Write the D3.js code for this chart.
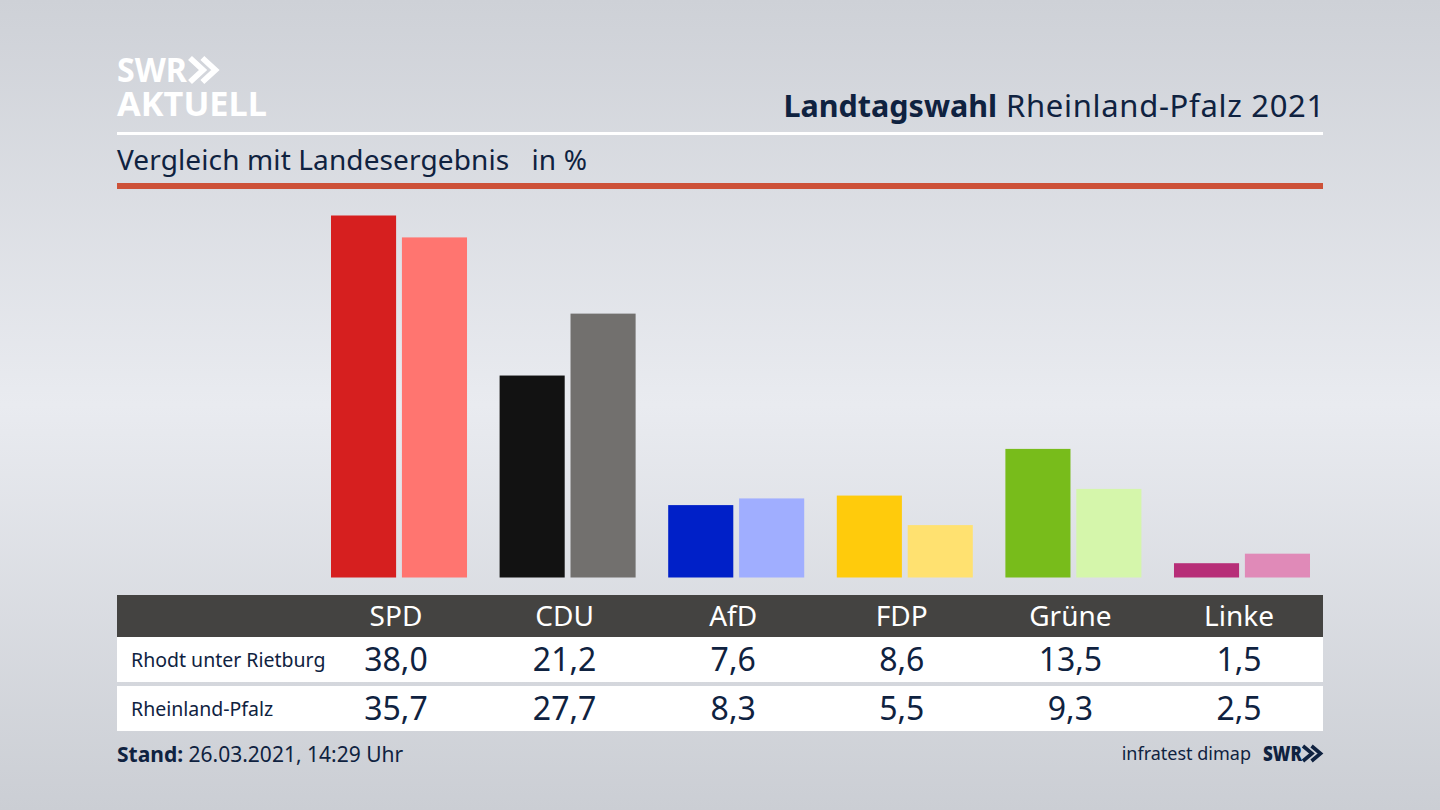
<!DOCTYPE html>
<html>
<head>
<meta charset="utf-8">
<script src="https://cdn.jsdelivr.net/npm/d3@7"></script>
<style>
    html, body { margin: 0; padding: 0; background: #d5d8de; }
    svg { display: block; }
    text { font-family: "Noto Sans", sans-serif; fill: #0f2240; }
</style>
</head>
<body>
<svg id="chart" width="1440" height="810"></svg>
<script>
    // Values
    const parties = ["SPD", "CDU", "AfD", "FDP", "Grüne", "Linke"];
    const rowLabels = ["Rhodt unter Rietburg", "Rheinland-Pfalz"];
    const localValues = [38.0, 21.2, 7.6, 8.6, 13.5, 1.5];
    const stateValues = [35.7, 27.7, 8.3, 5.5, 9.3, 2.5];
    const localColors = ["#d61f1f", "#121212", "#0020c8", "#ffcb0c", "#78bc1b", "#b72e78"];
    const stateColors = ["#ff7570", "#72706e", "#a0aeff", "#ffe170", "#d5f6ab", "#e08ab8"];

    const svg = d3.select("#chart");
    const defs = svg.append("defs");
    const left = 117, right = 1323;
    const navy = "#0f2240";

    // Background
    const bgLinear = defs.append("linearGradient").attr("id", "bgLinear")
        .attr("x1", 0).attr("y1", 0).attr("x2", 0).attr("y2", 1);
    bgLinear.append("stop").attr("offset", "0%").attr("stop-color", "#ced1d7");
    bgLinear.append("stop").attr("offset", "50%").attr("stop-color", "#e9ebf0");
    bgLinear.append("stop").attr("offset", "100%").attr("stop-color", "#cbced4");
    svg.append("rect").attr("width", 1440).attr("height", 810).attr("fill", "url(#bgLinear)");

    // Scales
    const barBottom = 577.5;
    const x = d3.scaleBand().domain(parties).range([314.7, 1326.3])
        .paddingInner(0.1933).paddingOuter(0.0967);
    const xSeries = d3.scaleBand().domain([0, 1]).range([0, x.bandwidth()]).paddingInner(0.082);
    const y = d3.scaleLinear().domain([0, 38]).range([barBottom, 215.5]);

    // Bars
    const drawBars = (values, colors, index) => {
        svg.append("g").selectAll("rect")
            .data(parties)
            .join("rect")
            .attr("x", (d) => x(d) + xSeries(index))
            .attr("y", (d, i) => y(values[i]))
            .attr("width", xSeries.bandwidth())
            .attr("height", (d, i) => barBottom - y(values[i]))
            .attr("fill", (d, i) => colors[i]);
    };
    drawBars(localValues, localColors, 0);
    drawBars(stateValues, stateColors, 1);

    // Header
    const logo = svg.append("g").attr("fill", "#fff");
    logo.append("text").attr("x", 117).attr("y", 82).attr("font-size", 34).attr("font-weight", 700)
        .style("fill", "#fff").attr("textLength", 70).attr("lengthAdjust", "spacingAndGlyphs").text("SWR");
    logo.append("text").attr("x", 117).attr("y", 116).attr("font-size", 34).attr("font-weight", 700)
        .style("fill", "#fff").attr("textLength", 150).attr("lengthAdjust", "spacingAndGlyphs").text("AKTUELL");
    const chevrons = (g, x0, y0, h, w, color) => {
        [0, 0.95 * w].forEach((dx) => {
            g.append("path")
                .attr("d", d3.line()([[x0 + dx, y0], [x0 + dx + w, y0 + h / 2], [x0 + dx, y0 + h]]))
                .attr("fill", "none").attr("stroke", color).attr("stroke-width", h * 0.24);
        });
    };
    chevrons(logo, 190, 58, 24, 13, "#fff");

    const title = svg.append("text").attr("x", right + 2).attr("y", 117).attr("text-anchor", "end").attr("font-size", 31);
    title.append("tspan").attr("font-weight", 700).attr("font-size", 30.5).text("Landtagswahl");
    title.append("tspan").attr("letter-spacing", 0.7).text(" Rheinland-Pfalz 2021");

    svg.append("rect").attr("x", left).attr("y", 132).attr("width", right - left).attr("height", 3).attr("fill", "#fff");
    svg.append("text").attr("x", left).attr("y", 170).attr("font-size", 28).attr("letter-spacing", 0.12).attr("xml:space", "preserve")
        .text("Vergleich mit Landesergebnis   in %");
    svg.append("rect").attr("x", left).attr("y", 183).attr("width", right - left).attr("height", 6).attr("fill", "#cd5138");

    // Table
    const labelX = (d) => x(d) + 65;
    svg.append("rect").attr("x", left).attr("y", 595).attr("width", right - left).attr("height", 42).attr("fill", "#444341");
    svg.append("g").selectAll("text")
        .data(parties)
        .join("text")
        .attr("x", labelX).attr("y", 625.5)
        .attr("text-anchor", "middle").attr("font-size", 28)
        .style("fill", "#fff")
        .text((d) => d);

    const fmt = (v) => v.toFixed(1).replace(".", ",");
    const drawRow = (label, values, top, height, base) => {
        svg.append("rect").attr("x", left).attr("y", top).attr("width", right - left).attr("height", height).attr("fill", "#fff");
        svg.append("text").attr("x", 131).attr("y", base - 4).attr("font-size", 19.5).text(label);
        svg.append("g").selectAll("text")
            .data(parties)
            .join("text")
            .attr("x", labelX).attr("y", base)
            .attr("text-anchor", "middle").attr("font-size", 32)
            .text((d, i) => fmt(values[i]));
    };
    drawRow(rowLabels[0], localValues, 637, 45, 671);
    drawRow(rowLabels[1], stateValues, 686, 45, 720);

    // Footer
    const stand = svg.append("text").attr("x", left).attr("y", 762).attr("font-size", 21);
    stand.append("tspan").attr("font-weight", 700).text("Stand:");
    stand.append("tspan").text(" 26.03.2021, 14:29 Uhr");
    svg.append("text").attr("x", 1251).attr("y", 760).attr("text-anchor", "end").attr("font-size", 18).text("infratest dimap");
    svg.append("text").attr("x", 1263).attr("y", 761).attr("font-size", 21).attr("font-weight", 900)
        .attr("textLength", 39).attr("lengthAdjust", "spacingAndGlyphs").text("SWR");
    chevrons(svg.append("g"), 1303, 746, 15, 9, navy);
</script>
</body>
</html>
